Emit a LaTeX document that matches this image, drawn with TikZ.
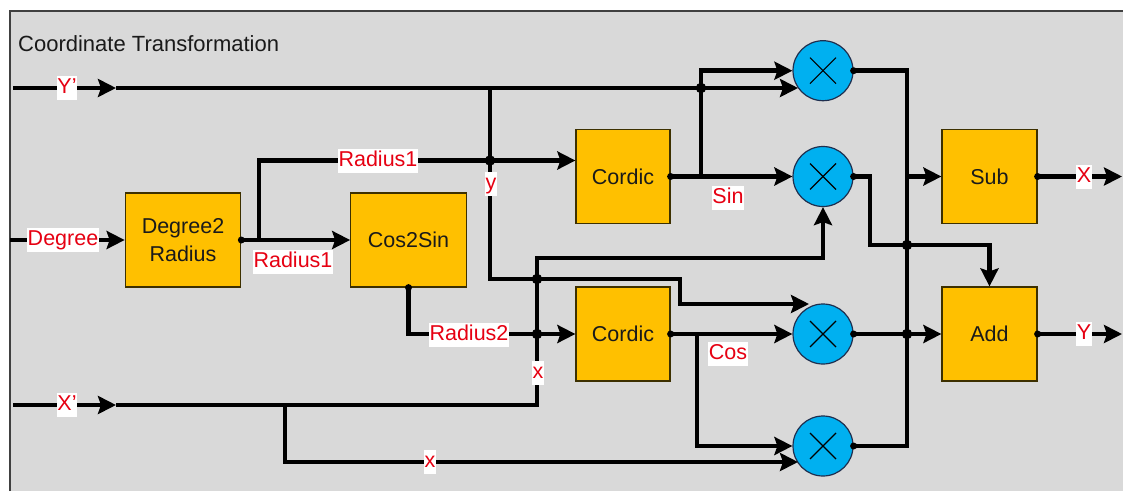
\documentclass[tikz,border=0pt]{standalone}
\usepackage{fontspec}
\setmainfont{Liberation Sans}
\usetikzlibrary{arrows.meta,calc}
\definecolor{bggray}{HTML}{D9D9D9}
\definecolor{boxfill}{HTML}{FFC000}
\definecolor{boxline}{HTML}{3D3000}
\definecolor{mulfill}{HTML}{00B0F0}
\definecolor{mulline}{HTML}{1F2F4F}
\definecolor{sigred}{HTML}{E60012}
\definecolor{framec}{HTML}{404040}
\definecolor{txt}{HTML}{1A1A1A}
\newcommand{\bxfont}{\fontsize{21.5pt}{27.5pt}\selectfont}
\newcommand{\ttlfont}{\fontsize{22pt}{26pt}\selectfont}
\begin{document}
\begin{tikzpicture}[x=1pt,y=-1pt,
  >={Stealth[length=18pt,width=18pt,inset=3pt]},
  wire/.style={line width=4.8pt, draw=black},
  blk/.style={draw=boxline, line width=1.2pt, fill=boxfill, minimum width=#1,
    minimum height=94pt, inner sep=0pt, font=\bxfont, text=txt, align=center},
  mul/.style={circle, draw=mulline, line width=1.2pt, fill=mulfill,
    minimum size=60pt, inner sep=0pt},
  lbl/.style={fill=white, text=sigred, font=\bxfont, inner xsep=0.6pt,
    inner ysep=0pt, text height=17.5pt, text depth=6.5pt},
  jdot/.style={circle, fill=black, inner sep=0pt, minimum size=10.5pt},
  pdot/.style={circle, fill=black, inner sep=0pt, minimum size=7pt},
  crossln/.style={line width=1.1pt, draw=black}]
\useasboundingbox (0,0) rectangle (1123,491);
\fill[white] (0,0) rectangle (1123,491);
\fill[bggray] (10,11) rectangle (1123,491);
\draw[framec, line width=1.3pt] (10,491) -- (10,11) -- (1123,11);
\node[anchor=west, font=\ttlfont, text=txt, inner sep=0pt] (title) at (18,44) {Coordinate Transformation};

% blocks
\node[blk=115.5pt] (D2R) at (183,240) {Degree2\\Radius};
\node[blk=115.5pt] (C2S) at (408.5,240) {Cos2Sin};
\node[blk=94pt] (C1) at (623,176.5) {Cordic};
\node[blk=94pt] (C2) at (623,334) {Cordic};
\node[blk=95pt] (Sub) at (989.5,176.5) {Sub};
\node[blk=95pt] (Add) at (989.5,334) {Add};
\node[mul] (M1) at (823,70.7) {};
\node[mul] (M2) at (823,176.5) {};
\node[mul] (M3) at (823,334) {};
\node[mul] (M4) at (823,446) {};
\foreach \m in {M1,M2,M3,M4}{
  \draw[crossln] ($(\m.center)+(-13,-13)$) -- ($(\m.center)+(13,13)$);
  \draw[crossln] ($(\m.center)+(-13,13)$) -- ($(\m.center)+(13,-13)$);
}

% coordinates
\coordinate (ys) at (13,88);
\coordinate (ya) at (116,88);
\coordinate (m1b) at (798,88);
\coordinate (yj) at (490,88);
\coordinate (yturn) at (490,279);
\coordinate (ystep) at (680,279);
\coordinate (m3a) at (809,304);
\coordinate (sj) at (701,88);
\coordinate (sb) at (701,176.5);
\coordinate (cb) at (697,334);
\coordinate (r1j) at (259,240);
\coordinate (r1t) at (259,160.5);
\coordinate (ds) at (10,240);
\coordinate (xs) at (13,405);
\coordinate (xa) at (116,405);
\coordinate (xt) at (537,405);
\coordinate (xu) at (537,258);
\coordinate (xb) at (285,405);
\coordinate (xbb) at (285,462);
\coordinate (m4b) at (798,462);
\coordinate (rt) at (907,70.7);
\coordinate (m2c) at (870,245);
\coordinate (xo) at (1122,176.5);
\coordinate (yo) at (1122,334);

% wires
\draw[wire,->] (ys) -- (ya);
\draw[wire,->] (ya) -- (m1b);
\draw[wire,->] (yj) -- (yturn) -- (ystep) -- (ystep |- m3a) -- (m3a);
\draw[wire,->] (ds) -- (D2R.west);
\draw[wire,->] (D2R.east) -- (C2S.west);
\draw[wire,->] (r1j) -- (r1t) -- (r1t -| C1.west);
\draw[wire,->] (C2S.south) |- (C2.west);
\draw[wire,->] (C1.east) -- (M2.west);
\draw[wire,->] (sb) |- (M1.west);
\draw[wire,->] (C2.east) -- (M3.west);
\draw[wire,->] (cb) |- (M4.west);
\draw[wire,->] (xs) -- (xa);
\draw[wire,->] (xa) -- (xt) -- (xu) -| (M2.south);
\draw[wire,->] (xb) -- (xbb) -- (m4b);
\draw[wire] (M1.east) -- (rt) -- (rt |- M4.east) -- (M4.east);
\draw[wire,->] (rt |- Sub.west) -- (Sub.west);
\draw[wire,->] (M2.east) -| (m2c) -| (Add.north);
\draw[wire,->] (M3.east) -- (Add.west);
\draw[wire,->] (Sub.east) -- (xo);
\draw[wire,->] (Add.east) -- (yo);

% junction dots
\node[jdot] (j1) at (sj) {};
\node[jdot] (j2) at (yj |- r1t) {};
\node[jdot] (j3) at (xt |- yturn) {};
\node[jdot] (j4) at (xt |- C2.west) {};
\node[jdot] (j5) at (rt |- m2c) {};
\node[jdot] (j6) at (rt |- M3.east) {};
% port dots
\foreach \p in {D2R.east,C2S.south,C1.east,C2.east,M1.east,M2.east,M3.east,M4.east,Sub.east,Add.east}{
  \node[pdot] at (\p) {};
}

% labels
\node[lbl] (lY) at (67,88) {Y’};
\node[lbl] (lX) at (67,405) {X’};
\node[lbl] (lDeg) at (63,240) {Degree};
\node[lbl] (lR1a) at (378,160.5) {Radius1};
\node[lbl] (lR1b) at (293,262) {Radius1};
\node[lbl] (ly) at (491,184) {y};
\node[lbl] (lSin) at (728,198) {Sin};
\node[lbl] (lR2) at (469,335) {Radius2};
\node[lbl] (lx1) at (538,373) {x};
\node[lbl] (lCos) at (728,354) {Cos};
\node[lbl] (lx2) at (430,462) {x};
\node[lbl] (lXo) at (1084,176.5) {X};
\node[lbl] (lYo) at (1084,334) {Y};
\end{tikzpicture}
\end{document}
